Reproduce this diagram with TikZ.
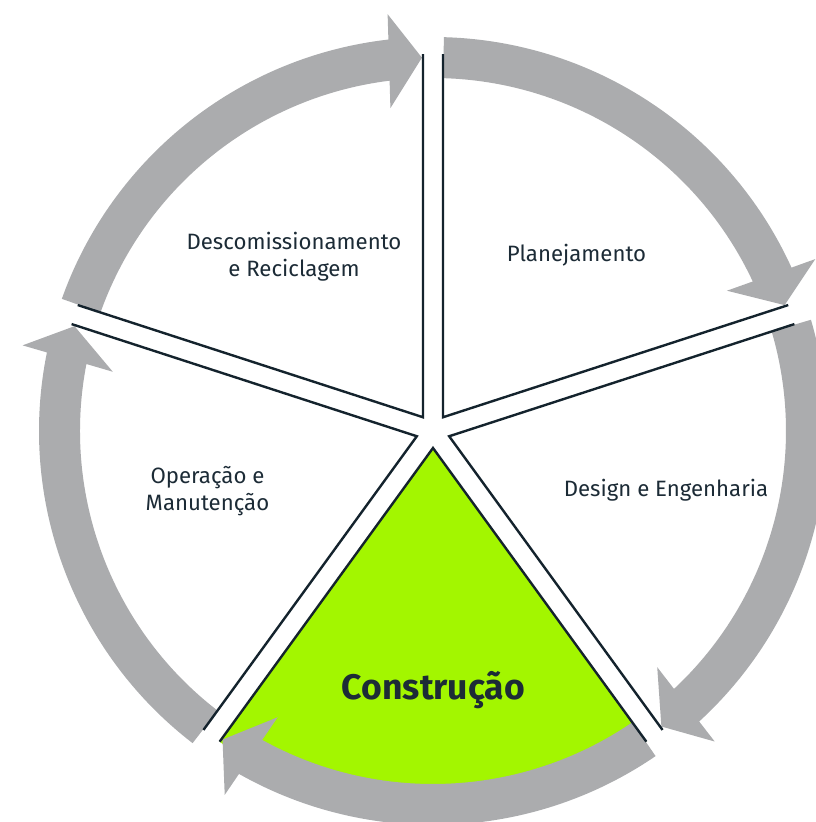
\documentclass[tikz,border=0pt]{standalone}
\usepackage{fontspec}
\setmainfont{Fira Sans}
\usetikzlibrary{calc}
\definecolor{arrowgray}{HTML}{ABACAE}
\definecolor{limefill}{HTML}{A3F600}
\definecolor{edgecol}{HTML}{14232D}
\definecolor{txtcol}{HTML}{1C2B36}
\begin{document}
\begin{tikzpicture}[x=1pt,y=1pt,
  sectoredge/.style={draw=edgecol,line width=2.4pt,line join=miter},
  cyclearrow/.style={fill=arrowgray},
  lbl/.style={text=txtcol,font=\fontsize{22.2}{27}\selectfont,align=center,inner sep=0pt},
  biglbl/.style={text=txtcol,font=\fontsize{35.5}{42}\selectfont\bfseries,inner sep=0pt}]
\useasboundingbox (-433,-391) rectangle (382,431);
% sector fills
\foreach \k/\col in {0/white,1/white,2/limefill,3/white,4/white}{
  \pgfmathsetmacro\ps{90-72*\k}
  \pgfmathsetmacro\pe{18-72*\k}
  \pgfmathsetmacro\pb{54-72*\k}
  \fill[\col] (\pb:17) -- ++(\ps:363) arc[start angle=\ps, end angle=\pe, radius=363] -- cycle;
}
% circular arrows
\foreach \k in {0,...,4}{
  \pgfmathsetmacro\as{88.4-72*\k}
  \pgfmathsetmacro\at{19.7-72*\k}
  \fill[cyclearrow] (\as:394) arc[start angle=\as, end angle={\at+4.8}, radius=394]
    -- ($(\at:418)+({\at+90}:33)$) -- (\at:373.5) -- ($(\at:324)+({\at+90}:33)$)
    -- ({\at+5.36}:353) arc[start angle={\at+5.36}, end angle=\as, radius=353] -- cycle;
}
% sector radial edges
\foreach \k in {0,...,4}{
  \pgfmathsetmacro\ps{90-72*\k}
  \pgfmathsetmacro\pe{18-72*\k}
  \pgfmathsetmacro\pb{54-72*\k}
  \draw[sectoredge] ($(\pb:17)+(\ps:363)$) -- (\pb:17) -- ($(\pb:17)+(\pe:363)$);
}
% labels
\node[lbl] (desc) at (-139,174) {Descomissionamento\\e Reciclagem};
\node[lbl,anchor=base] (plan) at (143.5,169.3) {Planejamento};
\node[lbl,anchor=base] (design) at (233,-65.7) {Design e Engenharia};
\node[lbl] (oper) at (-225.5,-60) {Operação e\\Manutenção};
\node[biglbl,anchor=base] (constr) at (0.5,-268) {Construção};
\end{tikzpicture}
\end{document}
